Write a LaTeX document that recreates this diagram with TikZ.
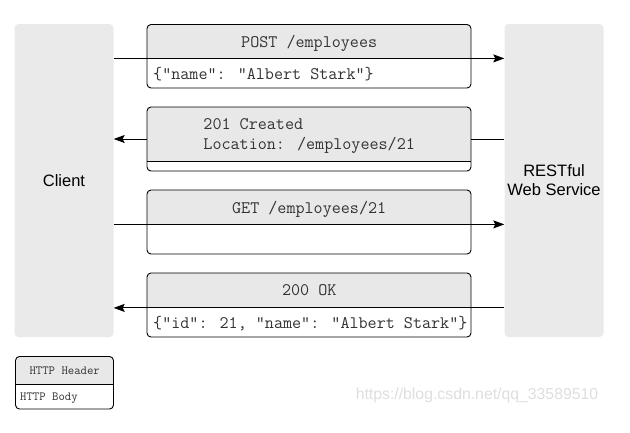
\documentclass[tikz,border=0pt]{standalone}
\usepackage{fontspec}
\setmainfont{Liberation Sans}
\usetikzlibrary{arrows.meta,backgrounds}
\definecolor{barc}{HTML}{EAEAEA}
\definecolor{hdrc}{HTML}{E8E8E8}
\definecolor{txtc}{HTML}{333333}
\definecolor{wmc}{HTML}{DEDEDE}
\begin{document}
\begin{tikzpicture}[x=1pt,y=-1pt,
  bar/.style={fill=barc, rounded corners=4pt, minimum width=99pt, minimum height=313pt, inner sep=0pt,
    font=\fontsize{16.5}{19}\selectfont, align=center},
  hdr/.style={fill=hdrc, minimum width=324pt, inner sep=0pt, anchor=north west, text depth=0pt,
    font=\ttfamily\fontsize{17.6}{20}\selectfont, text=txtc, align=left},
  bodytxt/.style={anchor=west, inner sep=0pt, font=\ttfamily\fontsize{17.6}{20}\selectfont, text=txtc},
  frame/.style={draw=black, line width=0.9pt, rounded corners=4pt, minimum width=324pt, inner sep=0pt},
  divline/.style={line width=0.9pt},
  msg/.style={line width=0.9pt, -{Stealth[length=11pt,width=8pt,inset=2pt]}},
  lhdr/.style={fill=hdrc, minimum width=98pt, minimum height=27.5pt, inner sep=0pt, anchor=north west,
    font=\ttfamily\fontsize{12.4}{14}\selectfont, text=txtc},
  ltxt/.style={anchor=west, inner sep=0pt, font=\ttfamily\fontsize{12.4}{14}\selectfont, text=txtc},
]
\useasboundingbox (0,0) rectangle (630,432);

% side bars
\node[bar] (client) at (64,180.5) {Client};
\node[bar] (server) at (554,180.5) {RESTful\\Web Service};

% box 1: POST
\begin{scope}
  \clip[rounded corners=4pt] (147,24.5) rectangle (471,88);
  \fill[white] (147,24.5) rectangle (471,88);
  \node[hdr, minimum height=33.5pt] (h1) at (147,24.5) {POST /employees};
\end{scope}
\node[frame, minimum height=63.5pt] (b1) at (309,56.25) {};
\node[bodytxt] (t1) at (153,74.5) {\{"name": "Albert Stark"\}};

% box 2: 201 Created
\begin{scope}
  \clip[rounded corners=4pt] (147,107) rectangle (471,171);
  \fill[white] (147,107) rectangle (471,171);
  \node[hdr, minimum height=54.5pt] (h2) at (147,107) {201 Created\\Location: /employees/21};
\end{scope}
\node[frame, minimum height=64pt] (b2) at (309,139) {};

% box 3: GET
\begin{scope}
  \clip[rounded corners=4pt] (147,190) rectangle (471,254);
  \fill[white] (147,190) rectangle (471,254);
  \node[hdr, minimum height=34pt] (h3) at (147,190) {GET /employees/21};
\end{scope}
\node[frame, minimum height=64pt] (b3) at (309,222) {};

% box 4: 200 OK
\begin{scope}
  \clip[rounded corners=4pt] (147,273) rectangle (471,337);
  \fill[white] (147,273) rectangle (471,337);
  \node[hdr, minimum height=34.5pt] (h4) at (147,273) {200 OK};
\end{scope}
\node[frame, minimum height=64pt] (b4) at (309,305) {};
\node[bodytxt] (t4) at (153,324) {\{"id": 21, "name": "Albert Stark"\}};

% dividers
\draw[divline] (h1.south west) -- (h1.south east);
\draw[divline] (h2.south west) -- (h2.south east);
\draw[divline] (h3.south west) -- (h3.south east);
\draw[divline] (h4.south west) -- (h4.south east);

% messages
\begin{scope}[on background layer]
  \draw[msg] (client.east |- h1.south) -- (server.west |- h1.south);
  \draw[msg] (server.west |- b2.center) -- (client.east |- b2.center);
  \draw[msg] (client.east |- h3.south) -- (server.west |- h3.south);
  \draw[msg] (server.west |- h4.south) -- (client.east |- h4.south);
\end{scope}

% legend
\begin{scope}
  \clip[rounded corners=4pt] (15.5,356.5) rectangle (113.5,409);
  \fill[white] (15.5,356.5) rectangle (113.5,409);
  \node[lhdr] (lh) at (15.5,356.5) {HTTP Header};
\end{scope}
\node[draw=black, line width=0.9pt, rounded corners=4pt, minimum width=98pt, minimum height=52.5pt, inner sep=0pt] (leg) at (64.5,382.75) {};
\draw[divline] (lh.south west) -- (lh.south east);
\node[ltxt] (lb) at (20,398) {HTTP Body};

% watermark
\node[text=wmc, inner sep=0pt, font=\fontsize{15.8}{18}\selectfont] (wm) at (477,395) {https://blog.csdn.net/qq\_33589510};
\end{tikzpicture}
\end{document}
